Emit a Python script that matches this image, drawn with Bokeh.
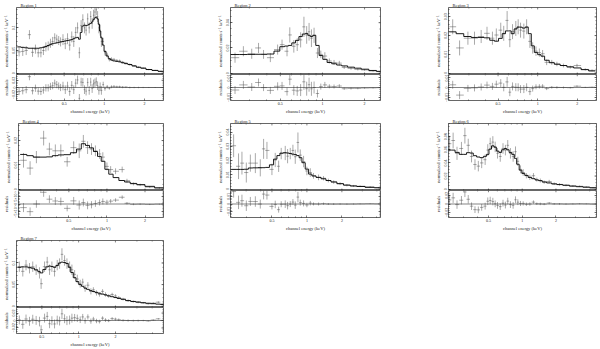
import numpy as np
from bokeh.plotting import figure
from bokeh.layouts import column, row
from bokeh.models import Range1d, LinearAxis, LogAxis, FixedTicker, Span
from bokeh.embed import file_html
from bokeh.resources import INLINE

FONT = "Liberation Serif"
XTICKS = [0.5, 1, 2, 5]
XLABELS = {0.5: "0.5", 1: "1", 2: "2", 5: "5"}
XMINOR = [0.2, 0.3, 0.4, 0.6, 0.7, 0.8, 0.9, 3, 4, 6, 7, 8, 9]

TITLES = ["Region 1", "Region 2", "Region 3", "Region 4", "Region 5", "Region 6", "Region 7"]

# ---------------- Region 1 ----------------
E1 = [0.23, 0.245, 0.26, 0.275, 0.29, 0.305, 0.32, 0.335, 0.35, 0.365, 0.38, 0.395, 0.41, 0.425, 0.44, 0.455, 0.47,
      0.49, 0.51, 0.53, 0.55, 0.57, 0.59, 0.61, 0.63, 0.65, 0.67, 0.69, 0.71, 0.73, 0.75, 0.77, 0.79, 0.81, 0.83, 0.85, 0.87, 0.89, 0.91, 0.93, 0.95,
      0.98, 1.01, 1.05, 1.09, 1.13, 1.18, 1.24, 1.3, 1.37, 1.45, 1.55, 1.67, 1.8, 1.95, 2.15, 2.4, 2.65]
Y1 = [0.047, 0.048, 0.05, 0.085, 0.046, 0.053, 0.045, 0.045, 0.05, 0.058, 0.06, 0.066, 0.07, 0.078, 0.075, 0.072, 0.069,
      0.074, 0.065, 0.076, 0.062, 0.08, 0.07, 0.09, 0.1, 0.045, 0.105, 0.118, 0.1, 0.095, 0.12, 0.1, 0.125, 0.11, 0.128, 0.135, 0.14, 0.125, 0.1, 0.095, 0.07,
      0.07, 0.045, 0.04, 0.03, 0.031, 0.03, 0.028, 0.027, 0.024, 0.022, 0.019, 0.016, 0.013, 0.011, 0.008, 0.006, 0.004]
M1 = [0.058, 0.057, 0.056, 0.055, 0.055, 0.055, 0.055, 0.056, 0.057, 0.059, 0.061, 0.063, 0.065, 0.066, 0.067, 0.068, 0.069,
      0.07, 0.071, 0.072, 0.073, 0.074, 0.076, 0.078, 0.079, 0.075, 0.09, 0.104, 0.106, 0.105, 0.106, 0.108, 0.11, 0.113, 0.118, 0.122, 0.124, 0.12, 0.108, 0.093, 0.078,
      0.062, 0.048, 0.038, 0.032, 0.029, 0.027, 0.026, 0.025, 0.023, 0.021, 0.019, 0.016, 0.013, 0.011, 0.008, 0.006, 0.004]
ERR1 = [0.01] * 17 + [0.012] * 24 + [0.008, 0.006, 0.005, 0.004, 0.004, 0.0035, 0.003, 0.003, 0.003, 0.0025, 0.0025, 0.002, 0.002, 0.0018, 0.0015, 0.0013, 0.0012]

# ---------------- Region 2 ----------------
E2 = [0.237, 0.272, 0.312, 0.349, 0.379, 0.424, 0.478, 0.514, 0.558, 0.584, 0.624, 0.66, 0.698, 0.737, 0.771, 0.802, 0.834, 0.871, 0.921, 0.973,
      1.04, 1.12, 1.21, 1.32, 1.43, 1.6, 1.79, 2.0, 2.3, 2.57]
Y2 = [0.0123, 0.0174, 0.0154, 0.02, 0.0149, 0.0123, 0.0187, 0.0226, 0.0174, 0.0303, 0.0213, 0.0226, 0.0264, 0.0367, 0.0303, 0.0328, 0.0277, 0.03, 0.016, 0.0149,
      0.0136, 0.0097, 0.0085, 0.008, 0.0046, 0.0038, 0.003, 0.0026, 0.0018, 0.0013]
M2 = [0.0148, 0.0148, 0.0149, 0.015, 0.015, 0.0152, 0.0175, 0.021, 0.0215, 0.022, 0.024, 0.026, 0.029, 0.031, 0.0315, 0.03, 0.029, 0.03, 0.022, 0.014,
      0.011, 0.0085, 0.0075, 0.0065, 0.0058, 0.0048, 0.004, 0.0032, 0.0022, 0.0015]
ERR2 = [0.004, 0.004, 0.004, 0.004, 0.0035, 0.0035, 0.004, 0.004, 0.004, 0.006, 0.005, 0.005, 0.006, 0.008, 0.007, 0.007, 0.007, 0.006, 0.004, 0.003,
        0.003, 0.002, 0.002, 0.0018, 0.0012, 0.001, 0.0008, 0.0007, 0.0006, 0.0005]

# ---------------- Region 3 ----------------
E3 = [0.226, 0.255, 0.295, 0.331, 0.372, 0.412, 0.453, 0.485, 0.524, 0.552, 0.586, 0.614, 0.644, 0.682, 0.711, 0.741, 0.785, 0.824, 0.873, 0.916,
      0.971, 1.03, 1.09, 1.17, 1.28, 1.4, 1.57, 1.77, 1.99, 2.3, 2.59]
Y3 = [0.0247, 0.0134, 0.0186, 0.0186, 0.0195, 0.0212, 0.0186, 0.0203, 0.0229, 0.0212, 0.0281, 0.0178, 0.0221, 0.0238, 0.0247, 0.0229, 0.0224, 0.0247, 0.0169, 0.0134,
      0.0117, 0.0109, 0.0103, 0.0057, 0.0057, 0.0048, 0.004, 0.0031, 0.004, 0.0019, 0.0014]
M3 = [0.022, 0.021, 0.0195, 0.019, 0.019, 0.0188, 0.0175, 0.017, 0.0185, 0.021, 0.0225, 0.0225, 0.021, 0.0235, 0.0245, 0.0245, 0.024, 0.0245, 0.021, 0.0145,
      0.011, 0.0098, 0.009, 0.0068, 0.0055, 0.0047, 0.004, 0.0033, 0.0027, 0.0018, 0.0011]
ERR3 = [0.004, 0.004, 0.0035, 0.0035, 0.0035, 0.0035, 0.0035, 0.0035, 0.004, 0.004, 0.005, 0.004, 0.004, 0.004, 0.004, 0.004, 0.004, 0.004, 0.0035, 0.003,
        0.0025, 0.0022, 0.002, 0.0015, 0.0013, 0.0012, 0.001, 0.0008, 0.0009, 0.0006, 0.0005]

# ---------------- Region 4 ----------------
E4 = [0.219, 0.247, 0.277, 0.316, 0.351, 0.391, 0.432, 0.485, 0.546, 0.604, 0.651, 0.703, 0.755, 0.811, 0.875, 0.928, 1.0, 1.07, 1.17, 1.32,
      1.44, 1.62, 1.83, 2.18, 2.6]
Y4 = [0.0119, 0.0087, 0.0132, 0.021, 0.0165, 0.0158, 0.0158, 0.0113, 0.0171, 0.0158, 0.0197, 0.0171, 0.0165, 0.0158, 0.0145, 0.0132, 0.0094, 0.0081, 0.0074, 0.0081,
      0.0035, 0.0022, 0.0018, 0.0009, 0.0005]
M4 = [0.0143, 0.0138, 0.0132, 0.0132, 0.0133, 0.0138, 0.0141, 0.0142, 0.015, 0.0165, 0.0187, 0.018, 0.017, 0.0155, 0.0135, 0.0115, 0.0082, 0.0062, 0.0048, 0.0036,
      0.003, 0.0024, 0.0019, 0.0012, 0.0006]
ERR4 = [0.003, 0.0028, 0.0025, 0.003, 0.0026, 0.0026, 0.0026, 0.002, 0.0026, 0.003, 0.0026, 0.0026, 0.0024, 0.0022, 0.002, 0.002, 0.0016, 0.0014, 0.0012, 0.0012,
        0.0008, 0.0006, 0.0005, 0.0004, 0.0003]

# ---------------- Region 5 ----------------
E5 = [0.234, 0.258, 0.276, 0.301, 0.326, 0.36, 0.397, 0.424, 0.453, 0.5, 0.534, 0.571, 0.601, 0.651, 0.682, 0.719, 0.758, 0.794, 0.837, 0.877,
      0.936, 1.0, 1.07, 1.14, 1.26, 1.39, 1.53, 1.7, 1.93, 2.21, 2.52, 2.87, 3.5, 4.13]
Y5 = [0.0304, 0.016, 0.0182, 0.0116, 0.0182, 0.0182, 0.0149, 0.0282, 0.0271, 0.0138, 0.0204, 0.016, 0.0249, 0.0253, 0.0231, 0.0249, 0.0271, 0.0227, 0.0327, 0.0238,
      0.0193, 0.0127, 0.0116, 0.0093, 0.0082, 0.0076, 0.006, 0.0049, 0.0038, 0.0027, 0.0022, 0.002, 0.0016, 0.0011]
M5 = [0.0138, 0.0138, 0.0138, 0.0139, 0.0148, 0.0149, 0.015, 0.015, 0.0152, 0.017, 0.021, 0.0235, 0.0252, 0.0255, 0.0253, 0.025, 0.0245, 0.0242, 0.0235, 0.022,
      0.0185, 0.014, 0.0105, 0.0092, 0.0082, 0.0072, 0.006, 0.005, 0.0038, 0.0028, 0.0022, 0.0018, 0.0012, 0.0009]
ERR5 = [0.008, 0.009, 0.008, 0.007, 0.006, 0.007, 0.006, 0.007, 0.006, 0.004, 0.005, 0.004, 0.004, 0.005, 0.005, 0.004, 0.004, 0.005, 0.007, 0.004,
        0.004, 0.003, 0.003, 0.002, 0.002, 0.0015, 0.0013, 0.0012, 0.001, 0.0008, 0.0007, 0.0006, 0.0005, 0.0004]

# ---------------- Region 6 ----------------
E6 = [0.225, 0.242, 0.262, 0.287, 0.308, 0.33, 0.353, 0.379, 0.406, 0.435, 0.467, 0.493, 0.518, 0.547, 0.574, 0.602, 0.637, 0.674, 0.708, 0.743,
      0.785, 0.83, 0.871, 0.914, 0.966, 1.02, 1.09, 1.17, 1.26, 1.35, 1.45, 1.57, 1.74, 1.93, 2.15, 2.46, 2.83, 3.25, 3.73, 4.29]
Y6 = [0.0693, 0.0741, 0.0546, 0.062, 0.0815, 0.0668, 0.0498, 0.0376, 0.0351, 0.04, 0.0449, 0.0595, 0.0693, 0.0717, 0.0644, 0.0546, 0.0498, 0.062, 0.0595, 0.0668,
      0.0546, 0.0498, 0.0571, 0.0424, 0.0302, 0.0254, 0.0205, 0.018, 0.0205, 0.0146, 0.0132, 0.0107, 0.0117, 0.0083, 0.0073, 0.0059, 0.0049, 0.0044, 0.0034, 0.002]
M6 = [0.0595, 0.0595, 0.056, 0.053, 0.053, 0.0556, 0.055, 0.051, 0.049, 0.048, 0.05, 0.053, 0.061, 0.066, 0.064, 0.058, 0.056, 0.06, 0.062, 0.06,
      0.056, 0.053, 0.047, 0.038, 0.029, 0.024, 0.021, 0.018, 0.016, 0.014, 0.013, 0.011, 0.0095, 0.008, 0.007, 0.006, 0.0047, 0.0038, 0.003, 0.0022]
ERR6 = [0.012, 0.012, 0.01, 0.01, 0.012, 0.01, 0.009, 0.008, 0.008, 0.008, 0.008, 0.009, 0.009, 0.009, 0.008, 0.008, 0.008, 0.008, 0.008, 0.008,
        0.008, 0.008, 0.008, 0.007, 0.006, 0.005, 0.004, 0.004, 0.004, 0.003, 0.003, 0.0025, 0.0025, 0.002, 0.002, 0.0015, 0.0013, 0.0012, 0.001, 0.0008]

# ---------------- Region 7 ----------------
E7 = [0.327, 0.349, 0.371, 0.396, 0.421, 0.449, 0.478, 0.493, 0.526, 0.553, 0.578, 0.604, 0.635, 0.668, 0.698, 0.73, 0.767, 0.802, 0.843, 0.881,
      0.927, 0.975, 1.03, 1.08, 1.13, 1.19, 1.26, 1.32, 1.4, 1.48, 1.57, 1.66, 1.76, 1.88, 2.0, 2.13, 2.31, 2.54, 2.8, 3.07,
      3.38, 3.71, 4.08, 4.49, 4.84]
Y7 = [0.0914, 0.0807, 0.095, 0.0879, 0.0914, 0.0843, 0.0771, 0.0521, 0.0914, 0.1021, 0.0843, 0.0914, 0.0807, 0.095, 0.0986, 0.12, 0.1057, 0.0986, 0.0914, 0.0843,
      0.0736, 0.0629, 0.0521, 0.0557, 0.0414, 0.0486, 0.0343, 0.0379, 0.0307, 0.0271, 0.0343, 0.0271, 0.0236, 0.0271, 0.0236, 0.02, 0.0164, 0.0129, 0.0107, 0.0093,
      0.0079, 0.0057, 0.0071, 0.0093, 0.0043]
M7 = [0.09, 0.091, 0.091, 0.09, 0.088, 0.084, 0.08, 0.077, 0.085, 0.091, 0.093, 0.092, 0.09, 0.094, 0.1, 0.102, 0.101, 0.099, 0.09, 0.078,
      0.066, 0.057, 0.05, 0.046, 0.042, 0.039, 0.036, 0.034, 0.032, 0.03, 0.028, 0.026, 0.024, 0.022, 0.02, 0.018, 0.016, 0.013, 0.011, 0.0095,
      0.008, 0.0068, 0.0058, 0.0048, 0.0042]
ERR7 = [0.012, 0.012, 0.012, 0.012, 0.012, 0.012, 0.013, 0.012, 0.012, 0.012, 0.012, 0.012, 0.012, 0.012, 0.012, 0.014, 0.012, 0.012, 0.012, 0.012,
        0.01, 0.01, 0.009, 0.008, 0.008, 0.007, 0.007, 0.006, 0.006, 0.005, 0.005, 0.005, 0.004, 0.004, 0.004, 0.0035, 0.003, 0.003, 0.0025, 0.0025,
        0.002, 0.002, 0.002, 0.002, 0.0018]

# axis ranges and tick labels per panel
XRANGES = [(0.22, 2.77), (0.22, 2.6), (0.21, 2.8), (0.2, 2.8), (0.22, 4.3), (0.22, 4.6), (0.31, 4.95)]
YRANGES = [(-0.003, 0.145), (-0.001, 0.052), (-0.0008, 0.035), (-0.0005, 0.027), (-0.001, 0.046), (-0.002, 0.1), (-0.003, 0.152)]
YTICKS = [[0, 0.05, 0.1], [0, 0.02, 0.04], [0, 0.01, 0.02, 0.03], [0, 0.01, 0.02], [0, 0.01, 0.02, 0.03, 0.04],
          [0, 0.02, 0.04, 0.06, 0.08], [0, 0.05, 0.1]]
YMINOR_STEP = [0.01, 0.005, 0.002, 0.002, 0.002, 0.005, 0.01]
RRANGES = [(-0.036, 0.036), (-0.013, 0.013), (-0.013, 0.013), (-0.009, 0.009), (-0.018, 0.018), (-0.032, 0.032), (-0.035, 0.035)]
RTICKS = [[-0.02, 0, 0.02], [-0.01, 0, 0.01], [-0.01, 0, 0.01], [-0.005, 0, 0.005], [-0.01, 0, 0.01], [-0.02, 0, 0.02], [-0.02, 0, 0.02]]
RLABELS = [None, None, None, {-0.005: "−5×10⁻³", 0: "0", 0.005: "5×10⁻³"}, None, None, None]
RMINOR_STEP = [0.005, 0.002, 0.002, 0.001, 0.002, 0.005, 0.005]

DATA = [(E1, Y1, ERR1, M1), (E2, Y2, ERR2, M2), (E3, Y3, ERR3, M3), (E4, Y4, ERR4, M4),
        (E5, Y5, ERR5, M5), (E6, Y6, ERR6, M6), (E7, Y7, ERR7, M7)]

# layout (pixels): per column (left border, frame width, right border); per row (upper height, lower height)
COLS = [(16, 147, 51), (16, 150, 52), (16, 148, 4)]
ROWS = [(74, 42), (74, 43), (74, 42)]
UP_TOP = 5
LO_BOT = 12
DATA_COLOR = "#555555"
MODEL_COLOR = "#000000"
TICK_MAJOR_PX, TICK_MINOR_PX = 2.0, 1.0


def style_axis(ax):
    ax.major_tick_in = 2
    ax.major_tick_out = 0
    ax.minor_tick_in = 1
    ax.minor_tick_out = 0
    ax.axis_line_color = None
    ax.major_tick_line_width = 0.5
    ax.minor_tick_line_width = 0.5
    ax.major_tick_line_color = "black"
    ax.minor_tick_line_color = "black"
    ax.major_label_text_font = FONT
    ax.major_label_text_font_size = "4px"
    ax.major_label_text_color = "#222222"
    ax.major_label_standoff = 1
    ax.axis_label_text_font = FONT
    ax.axis_label_text_font_style = "normal"
    ax.axis_label_text_font_size = "4.5px"
    ax.axis_label_text_color = "#222222"
    ax.axis_label_standoff = 1


def minor_ticks(lo, hi, step):
    return [t for t in np.arange(np.floor(lo / step) * step, hi + step, step) if lo < t < hi]


def frame_ticks(p, xr, yr, yticks, yminor, fw, fh, edges):
    """Inward ticks on the frame edges that carry no labelled axis."""
    x0, x1 = xr
    y0, y1 = yr
    xmaj = [t for t in XTICKS if x0 < t < x1]
    xmin = [t for t in XMINOR if x0 < t < x1]
    for ticks, px in ((xmaj, TICK_MAJOR_PX), (xmin, TICK_MINOR_PX)):
        dy = (y1 - y0) * px / fh
        t = np.asarray(ticks, float)
        if "top" in edges:
            p.segment(t, np.full(len(t), y1), t, np.full(len(t), y1 - dy), line_color="black", line_width=0.5)
        if "bottom" in edges:
            p.segment(t, np.full(len(t), y0), t, np.full(len(t), y0 + dy), line_color="black", line_width=0.5)
    ymaj = [t for t in yticks if y0 < t < y1]
    for ticks, px in ((ymaj, TICK_MAJOR_PX), (yminor, TICK_MINOR_PX)):
        t = np.asarray(ticks, float)
        xin = x1 * (x0 / x1) ** (px / fw)
        p.segment(np.full(len(t), x1), t, np.full(len(t), xin), t, line_color="black", line_width=0.5)


def add_axes(p, yticks, yminor, ylabel, ylabels, show_x):
    left = LinearAxis(ticker=FixedTicker(ticks=yticks, minor_ticks=yminor), axis_label=ylabel)
    style_axis(left)
    left.major_label_orientation = "vertical"
    if ylabels:
        left.major_label_overrides = ylabels
    p.add_layout(left, "left")
    if show_x:
        below = LogAxis(ticker=FixedTicker(ticks=XTICKS, minor_ticks=XMINOR), axis_label="channel energy (keV)")
        style_axis(below)
        below.major_label_overrides = XLABELS
        p.add_layout(below, "below")


def bin_edges(E):
    E = np.asarray(E, float)
    mid = np.sqrt(E[:-1] * E[1:])
    lo = np.concatenate([[E[0] ** 2 / mid[0]], mid])
    hi = np.concatenate([mid, [E[-1] ** 2 / mid[-1]]])
    return lo, hi


def make_panel(i, col, rw):
    E, Y, ERR, M = [np.asarray(a, float) for a in DATA[i]]
    bl, fw, br = COLS[col]
    up_h, lo_h = ROWS[rw]
    W = bl + fw + br
    xr = Range1d(*XRANGES[i])
    lo, hi = bin_edges(E)

    pu = figure(width=W, height=up_h, x_axis_type="log", x_range=xr, y_range=Range1d(*YRANGES[i]),
                output_backend="svg", toolbar_location=None, x_axis_location=None, y_axis_location=None,
                min_border_left=bl, min_border_right=br, min_border_top=UP_TOP, min_border_bottom=0,
                title=TITLES[i])
    pu.title.text_font = FONT
    pu.title.text_font_size = "4.5px"
    pu.title.text_font_style = "normal"
    pu.title.text_color = "#222222"
    pu.title.standoff = 0
    pu.title.offset = 4
    pu.grid.visible = False
    pu.outline_line_color = "black"
    pu.outline_line_width = 0.6
    ymin_u = minor_ticks(YRANGES[i][0], YRANGES[i][1], YMINOR_STEP[i])
    add_axes(pu, YTICKS[i], ymin_u, "normalized counts s⁻¹ keV⁻¹", None, False)
    frame_ticks(pu, XRANGES[i], YRANGES[i], YTICKS[i], ymin_u, fw, up_h - UP_TOP, ("top", "bottom"))
    pu.segment(E, Y - ERR, E, Y + ERR, line_color=DATA_COLOR, line_width=0.5)
    pu.segment(lo, Y, hi, Y, line_color=DATA_COLOR, line_width=0.5)
    sx = np.column_stack([lo, hi]).ravel()
    sy = np.repeat(M, 2)
    pu.line(sx, sy, line_color=MODEL_COLOR, line_width=0.9)

    R = Y - M
    pl = figure(width=W, height=lo_h, x_axis_type="log", x_range=xr, y_range=Range1d(*RRANGES[i]),
                output_backend="svg", toolbar_location=None, x_axis_location=None, y_axis_location=None,
                min_border_left=bl, min_border_right=br, min_border_top=0, min_border_bottom=LO_BOT)
    pl.grid.visible = False
    pl.outline_line_color = "black"
    pl.outline_line_width = 0.6
    ymin_l = minor_ticks(RRANGES[i][0], RRANGES[i][1], RMINOR_STEP[i])
    add_axes(pl, RTICKS[i], ymin_l, "residuals", RLABELS[i], True)
    frame_ticks(pl, XRANGES[i], RRANGES[i], RTICKS[i], ymin_l, fw, lo_h - LO_BOT, ("top",))
    pl.add_layout(Span(location=0, dimension="width", line_color="#333333", line_width=0.6))
    pl.segment(E, R - ERR, E, R + ERR, line_color=DATA_COLOR, line_width=0.5)
    pl.segment(lo, R, hi, R, line_color=DATA_COLOR, line_width=0.5)
    return column(pu, pl, spacing=0)


rows = [
    row(make_panel(0, 0, 0), make_panel(1, 1, 0), make_panel(2, 2, 0), spacing=0),
    row(make_panel(3, 0, 1), make_panel(4, 1, 1), make_panel(5, 2, 1), spacing=0),
    row(make_panel(6, 0, 2), spacing=0),
]
layout = column(*rows, spacing=0)

open("out.html", "w").write(file_html(layout, INLINE))
